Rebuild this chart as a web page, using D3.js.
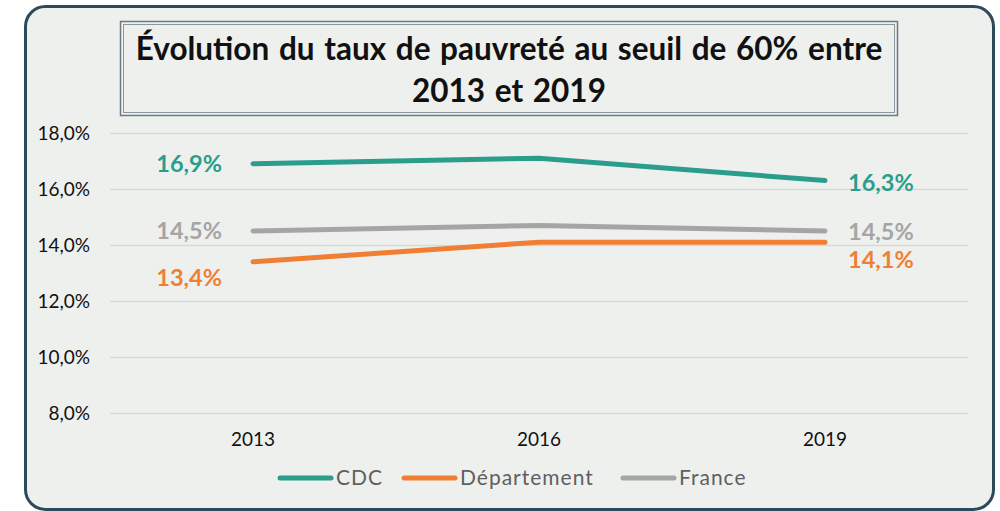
<!DOCTYPE html>
<html lang="fr">
<head>
<meta charset="UTF-8">
<title>Évolution du taux de pauvreté</title>
<script src="https://cdn.jsdelivr.net/npm/d3@7"></script>
<style>
  html, body { margin: 0; padding: 0; background: #ffffff; }
  svg { display: block; font-family: Lato, "Open Sans", sans-serif; }
</style>
</head>
<body>
<div id="chart"></div>
<script>
// values
const years = ["2013", "2016", "2019"];
const seriesNames = ["CDC", "Département", "France"];
const cdcValues = [16.9, 17.1, 16.3];
const departementValues = [13.4, 14.1, 14.1];
const franceValues = [14.5, 14.7, 14.5];
const yTicks = [8, 10, 12, 14, 16, 18];

const colors = { "CDC": "#2a9d8c", "Département": "#f07f33", "France": "#a5a5a5" };
// label offset (px below the point) for first / last labels
const labelDy = { "CDC": [8, 10], "Département": [24, 26], "France": [8, 9] };

const series = [
    { name: "CDC", values: cdcValues },
    { name: "Département", values: departementValues },
    { name: "France", values: franceValues }
];

const width = 1000, height = 511;
const plot = { left: 110, right: 968, top: 133, bottom: 413 };

const fr = d3.formatLocale({ decimal: ",", thousands: " ", grouping: [3], currency: ["", " €"] });
const fmtTick = v => fr.format(".1f")(v) + "%";

const svg = d3.select("#chart").append("svg")
    .attr("width", width)
    .attr("height", height);

// outer card
svg.append("rect")
    .attr("x", 25.5).attr("y", 6.5)
    .attr("width", 968).attr("height", 503)
    .attr("rx", 20)
    .attr("fill", "#eef0ee")
    .attr("stroke", "#2c4a5a")
    .attr("stroke-width", 3);

// title box, double frame
svg.append("rect")
    .attr("x", 120.5).attr("y", 21.5)
    .attr("width", 777).attr("height", 94)
    .attr("fill", "none").attr("stroke", "#6b7b84").attr("stroke-width", 1.5);
svg.append("rect")
    .attr("x", 123.5).attr("y", 24.5)
    .attr("width", 771).attr("height", 88)
    .attr("fill", "none").attr("stroke", "#8a979e").attr("stroke-width", 1);

const title = svg.append("text")
    .attr("text-anchor", "middle")
    .attr("font-weight", "bold")
    .attr("font-size", 31.5)
    .attr("word-spacing", 2)
    .attr("fill", "#111");
title.append("tspan").attr("x", 509).attr("y", 60)
    .text("Évolution du taux de pauvreté au seuil de 60% entre");
title.append("tspan").attr("x", 509).attr("y", 102)
    .text("2013 et 2019");

const x = d3.scaleBand().domain(years).range([plot.left, plot.right]).padding(0);
const cx = d => x(d) + x.bandwidth() / 2;
const y = d3.scaleLinear().domain([8, 18]).range([plot.bottom, plot.top]);

// gridlines + y labels
const yAxis = svg.append("g")
    .attr("transform", `translate(${plot.left},0)`)
    .call(d3.axisLeft(y).tickValues(yTicks).tickFormat(fmtTick)
        .tickSize(-(plot.right - plot.left)).tickPadding(20));
yAxis.select(".domain").remove();
yAxis.selectAll(".tick line").attr("stroke", "#d9d9d9").attr("stroke-width", 1.5);
yAxis.selectAll(".tick text")
    .attr("font-size", 19).attr("fill", "#111")
    .attr("font-family", "Lato, sans-serif")
    .attr("dy", "0.35em");

// x labels
const xAxis = svg.append("g")
    .attr("transform", `translate(0,${plot.bottom})`)
    .call(d3.axisBottom(x).tickSize(0).tickPadding(20));
xAxis.select(".domain").remove();
xAxis.selectAll(".tick text")
    .attr("font-size", 19).attr("fill", "#111")
    .attr("font-family", "Lato, sans-serif");

// lines
const line = d3.line().x((d, i) => cx(years[i])).y(d => y(d));
svg.append("g").selectAll("path")
    .data(series)
    .join("path")
    .attr("d", d => line(d.values))
    .attr("fill", "none")
    .attr("stroke", d => colors[d.name])
    .attr("stroke-width", 5)
    .attr("stroke-linecap", "round")
    .attr("stroke-linejoin", "round");

// data labels on first and last points
const labels = svg.append("g")
    .attr("font-weight", "bold")
    .attr("font-size", 23.5);
series.forEach(s => {
    const last = s.values.length - 1;
    labels.append("text")
        .attr("x", cx(years[0]) - 31)
        .attr("y", y(s.values[0]) + labelDy[s.name][0])
        .attr("text-anchor", "end")
        .attr("fill", colors[s.name])
        .text(fmtTick(s.values[0]));
    labels.append("text")
        .attr("x", cx(years[last]) + 23)
        .attr("y", y(s.values[last]) + labelDy[s.name][1])
        .attr("text-anchor", "start")
        .attr("fill", colors[s.name])
        .text(fmtTick(s.values[last]));
});

// legend
const legendX = [280, 404, 623];
const legend = svg.append("g").attr("transform", "translate(0,478)");
seriesNames.forEach((n, i) => {
    const g = legend.append("g").attr("transform", `translate(${legendX[i]},0)`);
    g.append("line")
        .attr("x1", 0).attr("x2", 51)
        .attr("stroke", colors[n]).attr("stroke-width", 5)
        .attr("stroke-linecap", "round");
    g.append("text")
        .attr("x", 56).attr("dy", "0.35em")
        .attr("font-size", 21)
        .attr("letter-spacing", 1)
        .attr("fill", "#5f5f5f")
        .text(n);
});
</script>
</body>
</html>
